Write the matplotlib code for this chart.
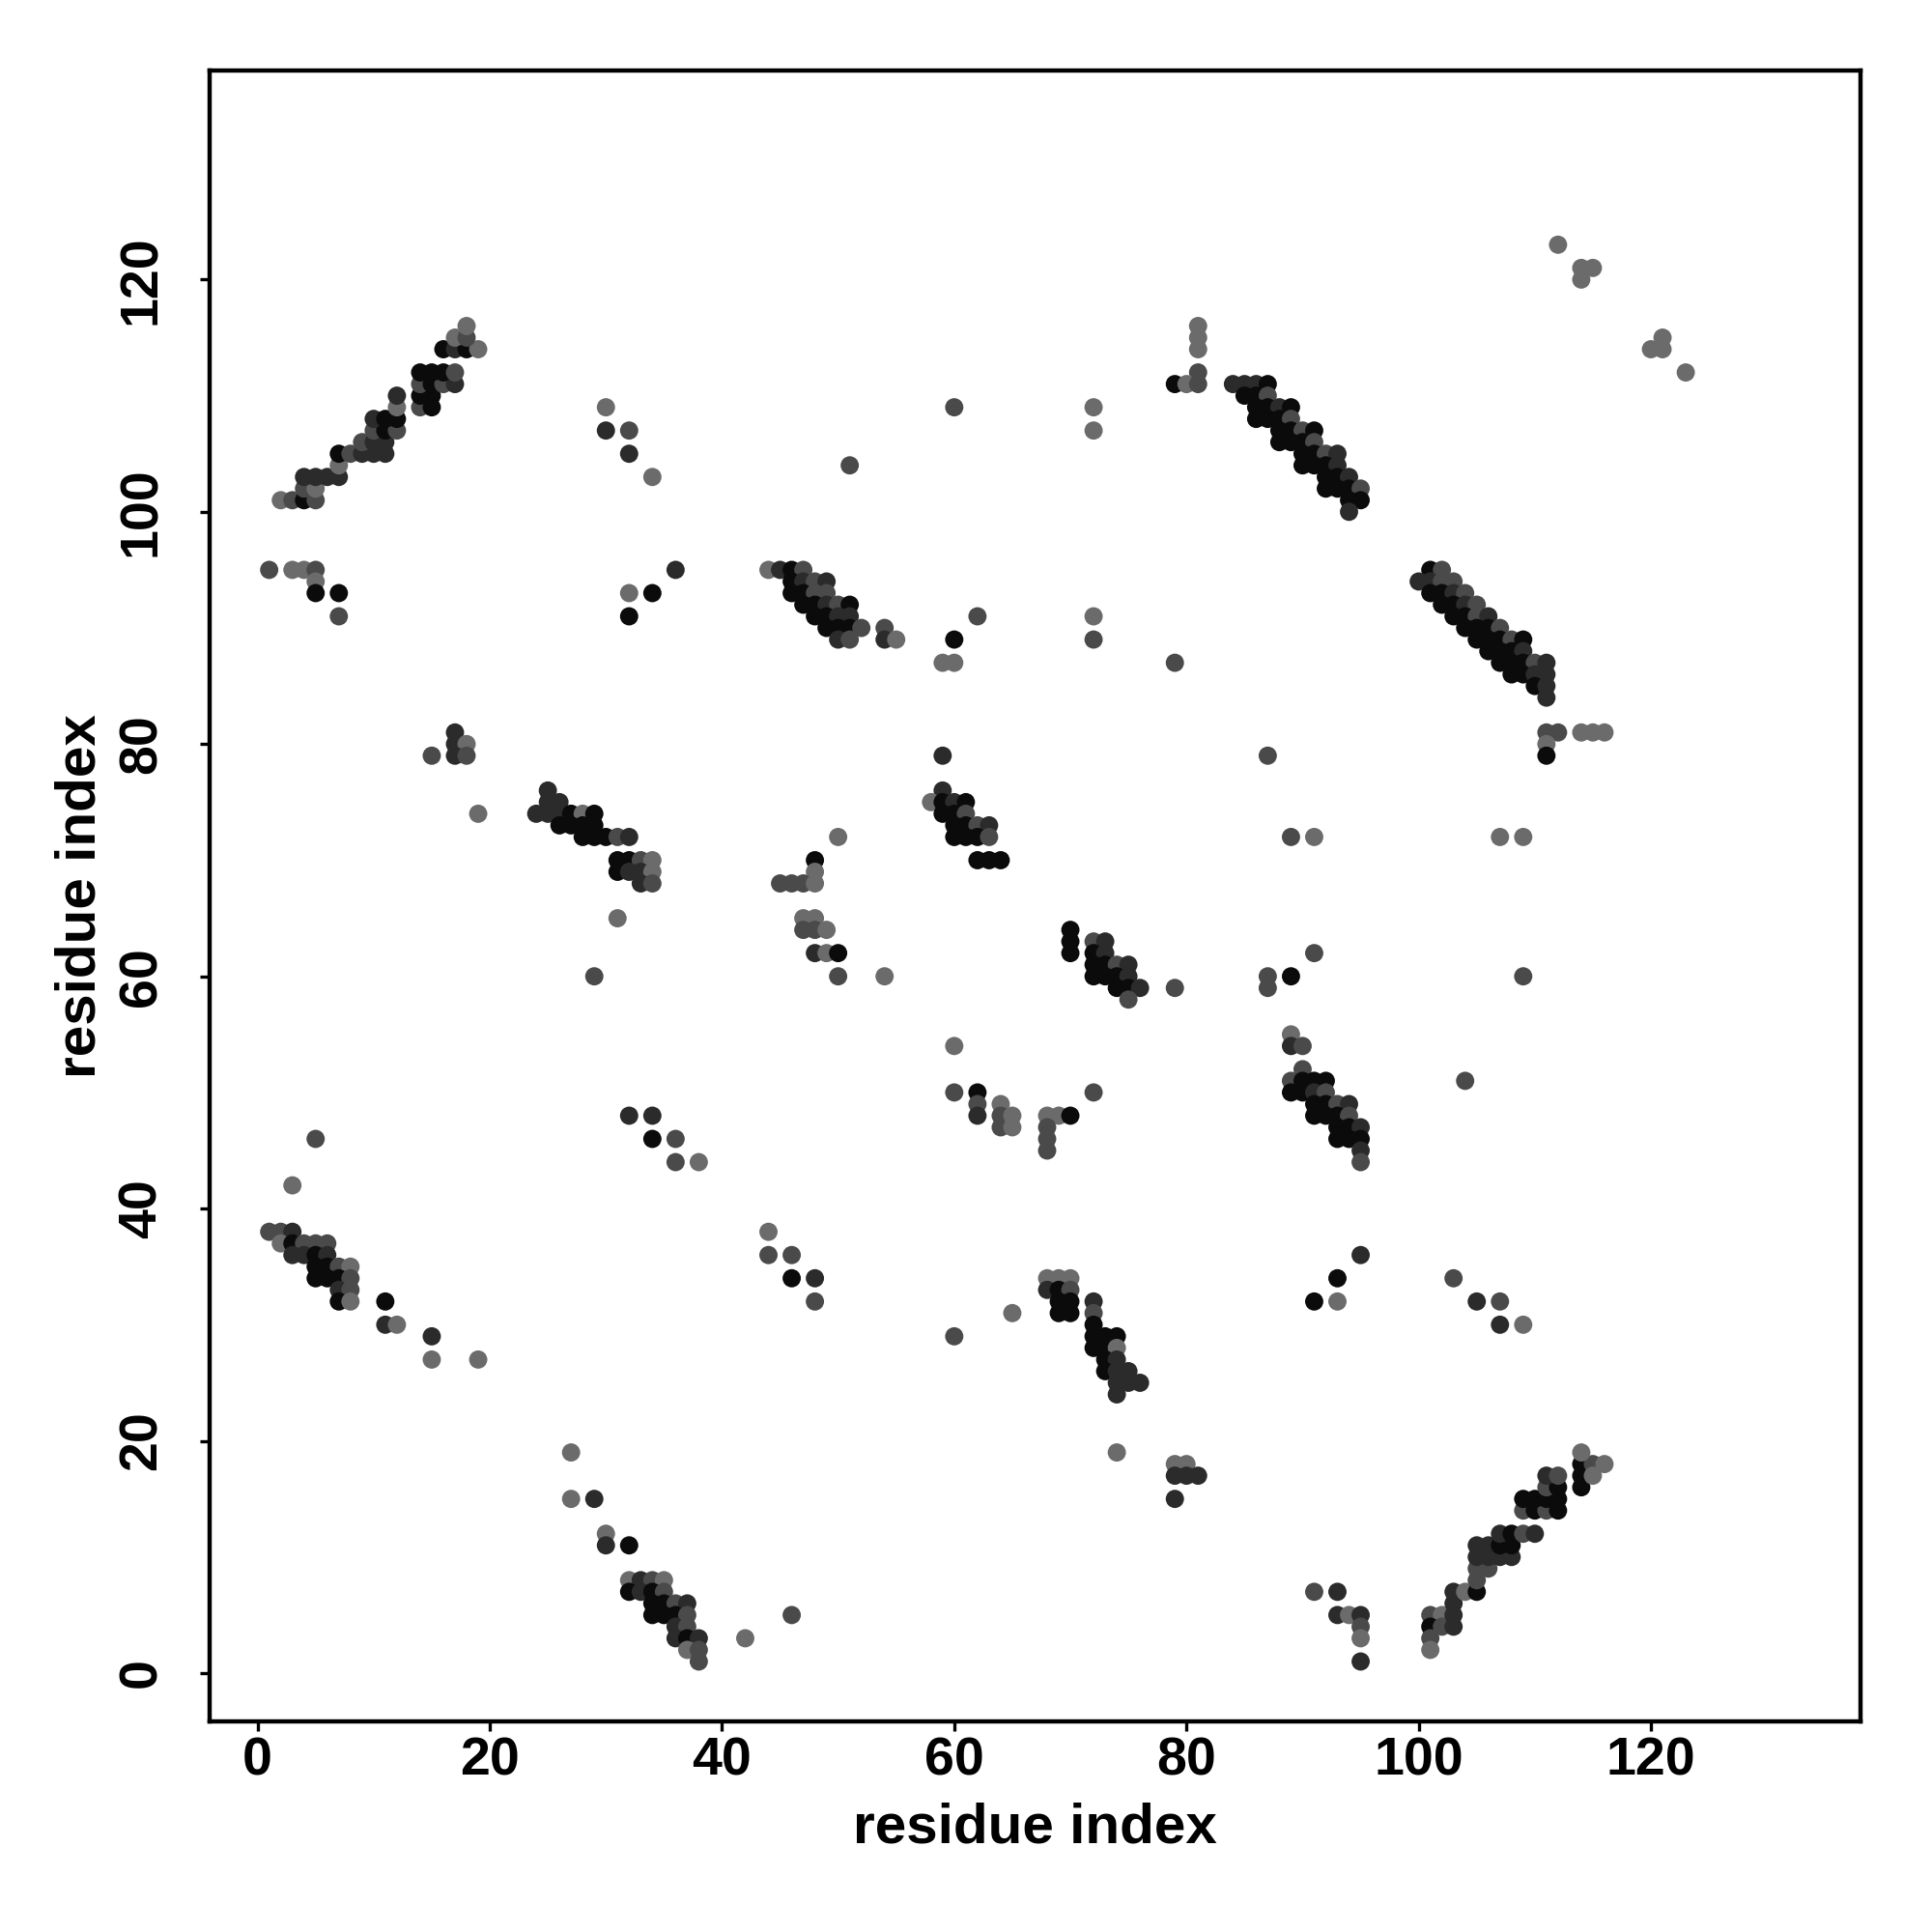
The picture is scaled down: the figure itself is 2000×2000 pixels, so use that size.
import matplotlib
matplotlib.use("Agg")
import matplotlib.pyplot as plt

plt.rcParams['font.family'] = ['Liberation Sans', 'DejaVu Sans']
plt.rcParams['font.weight'] = 'bold'

# gray level per confidence class: k=black, d=dark, m=mid, l=light
shades = {'k': '#0b0b0b', 'd': '#2b2b2b', 'm': '#4a4a4a', 'l': '#6b6b6b'}

# (residue i, residue j, class), grouped by region
top_left_band = [
    (2,101,'l'),(3,101,'m'),(4,101,'k'),(5,101,'m'),(4,102,'m'),(5,102,'l'),
    (4,103,'d'),(5,103,'d'),(6,103,'d'),(7,103,'d'),(7,104,'l'),
    (7,105,'k'),(8,105,'m'),(9,105,'d'),(10,105,'d'),(11,105,'d'),
    (9,106,'m'),(10,106,'d'),(11,106,'d'),(10,107,'m'),(11,107,'k'),(12,107,'m'),
    (10,108,'d'),(11,108,'k'),(12,108,'k'),(12,109,'l'),(14,109,'m'),(15,109,'k'),
    (12,110,'d'),(14,110,'k'),(15,110,'k'),(14,111,'m'),(15,111,'k'),(16,111,'m'),(17,111,'d'),
    (14,112,'k'),(15,112,'k'),(16,112,'k'),(17,112,'m'),
    (16,114,'k'),(17,114,'d'),(18,114,'k'),(19,114,'l'),(17,115,'l'),(18,115,'m'),(18,116,'l'),
    (1,95,'m'),(3,95,'l'),(4,95,'l'),(5,95,'m'),(5,94,'l'),(5,93,'k'),(7,93,'k'),(7,91,'m'),
]

top_scatter = [
    (30,109,'l'),(30,107,'d'),(32,107,'m'),(32,105,'d'),(34,103,'l'),(32,93,'l'),(32,91,'k'),
    (34,93,'k'),(36,95,'d'),(51,104,'m'),(60,109,'m'),(62,91,'m'),(60,89,'k'),(59,87,'l'),
    (60,87,'l'),(72,109,'l'),(72,107,'l'),(72,91,'l'),(72,89,'m'),(79,87,'m'),
]

mid_top_band = [
    (44,95,'l'),(45,95,'d'),(46,95,'k'),(47,95,'m'),
    (46,94,'k'),(47,94,'d'),(48,94,'m'),(49,94,'d'),
    (46,93,'k'),(47,93,'k'),(48,93,'m'),(49,93,'m'),
    (47,92,'k'),(48,92,'k'),(49,92,'d'),(50,92,'m'),(51,92,'k'),
    (48,91,'k'),(49,91,'k'),(50,91,'d'),(51,91,'d'),
    (49,90,'k'),(50,90,'k'),(51,90,'k'),(52,90,'m'),(54,90,'m'),
    (50,89,'d'),(51,89,'m'),(54,89,'d'),(55,89,'l'),
]

top_right_band = [
    (81,116,'l'),(81,115,'l'),(81,114,'l'),(81,112,'m'),(79,111,'k'),(80,111,'l'),(81,111,'m'),
    (84,111,'d'),(85,111,'d'),(86,111,'d'),(87,111,'k'),
    (85,110,'k'),(86,110,'k'),(87,110,'m'),
    (86,109,'k'),(87,109,'k'),(88,109,'d'),(89,109,'k'),
    (86,108,'k'),(87,108,'k'),(88,108,'k'),(89,108,'m'),
    (88,107,'k'),(89,107,'k'),(90,107,'m'),(91,107,'k'),
    (88,106,'k'),(89,106,'k'),(90,106,'k'),(91,106,'m'),
    (90,105,'k'),(91,105,'k'),(92,105,'m'),(93,105,'d'),
    (90,104,'k'),(91,104,'k'),(92,104,'k'),(93,104,'d'),
    (92,103,'k'),(93,103,'k'),(94,103,'d'),
    (92,102,'k'),(93,102,'k'),(94,102,'k'),(95,102,'m'),
    (94,101,'k'),(95,101,'k'),(94,100,'d'),
]

corner = [
    (112,123,'l'),(114,121,'l'),(115,121,'l'),(114,120,'l'),
    (120,114,'l'),(121,115,'l'),(121,114,'l'),(123,112,'l'),
]

right_band = [
    (101,95,'k'),(102,95,'m'),
    (100,94,'d'),(101,94,'d'),(102,94,'m'),(103,94,'m'),
    (101,93,'k'),(102,93,'k'),(103,93,'d'),(104,93,'m'),
    (102,92,'k'),(103,92,'k'),(104,92,'d'),(105,92,'m'),
    (103,91,'k'),(104,91,'k'),(105,91,'m'),(106,91,'d'),
    (104,90,'k'),(105,90,'k'),(106,90,'k'),(107,90,'m'),
    (105,89,'k'),(106,89,'k'),(107,89,'k'),(108,89,'m'),(109,89,'k'),
    (106,88,'k'),(107,88,'k'),(108,88,'k'),(109,88,'d'),
    (107,87,'k'),(108,87,'k'),(109,87,'k'),(110,87,'m'),(111,87,'d'),
    (108,86,'k'),(109,86,'k'),(110,86,'d'),(111,86,'d'),
    (110,85,'k'),(111,85,'d'),(111,84,'d'),
    (111,81,'m'),(112,81,'m'),(114,81,'l'),(115,81,'l'),(116,81,'l'),(111,80,'l'),(111,79,'k'),
]

middle = [
    (17,81,'d'),(17,80,'d'),(18,80,'l'),(15,79,'m'),(17,79,'d'),(18,79,'m'),(19,74,'l'),
    (25,76,'d'),(25,75,'d'),(26,75,'d'),(24,74,'d'),(25,74,'d'),(26,74,'d'),(27,74,'k'),
    (28,74,'l'),(29,74,'k'),(26,73,'k'),(27,73,'k'),(28,73,'k'),(29,73,'k'),
    (28,72,'k'),(29,72,'k'),(30,72,'k'),(31,72,'m'),(32,72,'d'),
    (31,70,'k'),(32,70,'k'),(33,70,'m'),(34,70,'l'),
    (31,69,'k'),(32,69,'d'),(33,69,'d'),(34,69,'l'),(33,68,'d'),(34,68,'m'),
    (31,65,'l'),(29,60,'m'),
    (50,72,'l'),(48,70,'k'),(48,69,'l'),(45,68,'m'),(46,68,'m'),(47,68,'m'),(48,68,'l'),
    (47,65,'l'),(48,65,'l'),(47,64,'m'),(48,64,'m'),(49,64,'l'),
    (48,62,'d'),(49,62,'l'),(50,62,'k'),(50,60,'m'),(54,60,'l'),
    (59,79,'d'),(59,76,'d'),(58,75,'l'),(59,75,'k'),(60,75,'d'),(61,75,'k'),
    (59,74,'k'),(60,74,'k'),(61,74,'m'),(60,73,'k'),(61,73,'k'),(62,73,'m'),(63,73,'d'),
    (60,72,'k'),(61,72,'k'),(62,72,'k'),(63,72,'m'),(62,70,'k'),(63,70,'k'),(64,70,'k'),
    (70,64,'k'),(70,63,'k'),(70,62,'k'),(72,63,'m'),(73,63,'d'),(72,62,'k'),(73,62,'d'),
    (72,61,'k'),(73,61,'k'),(74,61,'m'),(75,61,'d'),(72,60,'k'),(73,60,'k'),(74,60,'k'),
    (75,60,'d'),(74,59,'k'),(75,59,'k'),(76,59,'d'),(75,58,'m'),
    (87,79,'m'),(89,72,'m'),(91,72,'l'),(107,72,'l'),(109,72,'l'),(79,59,'m'),(87,60,'m'),
    (87,59,'m'),(89,60,'k'),(91,62,'m'),(109,60,'m'),(104,51,'m'),
]

lower_middle = [
    (89,55,'l'),(89,54,'d'),(90,54,'m'),(90,52,'m'),(89,51,'m'),(90,51,'k'),(91,51,'k'),(92,51,'k'),
    (89,50,'k'),(90,50,'k'),(91,50,'d'),(92,50,'m'),
    (91,49,'k'),(92,49,'k'),(93,49,'m'),(94,49,'d'),
    (91,48,'k'),(92,48,'k'),(93,48,'k'),(94,48,'m'),
    (93,47,'k'),(94,47,'k'),(95,47,'d'),(93,46,'k'),(94,46,'k'),(95,46,'k'),
    (95,45,'d'),(95,44,'m'),
    (60,54,'l'),(60,50,'m'),(62,50,'k'),(62,49,'m'),(62,48,'d'),(64,49,'l'),(64,48,'m'),
    (64,47,'m'),(65,48,'l'),(65,47,'l'),(68,48,'l'),(69,48,'l'),(70,48,'k'),(68,47,'m'),
    (68,46,'m'),(68,45,'m'),(72,50,'m'),
    (32,48,'d'),(34,48,'d'),(34,46,'k'),(36,46,'m'),(36,44,'m'),(38,44,'l'),
    (44,38,'l'),(44,36,'m'),(46,36,'m'),(46,34,'k'),(48,34,'d'),(48,32,'m'),
]

lower_left_band = [
    (5,46,'m'),(3,42,'l'),
    (1,38,'m'),(2,38,'m'),(3,38,'d'),
    (2,37,'l'),(3,37,'k'),(4,37,'m'),(5,37,'m'),(6,37,'m'),
    (3,36,'d'),(4,36,'d'),(5,36,'k'),(6,36,'d'),
    (5,35,'k'),(6,35,'k'),(7,35,'m'),(8,35,'l'),
    (5,34,'k'),(6,34,'k'),(7,34,'k'),(8,34,'m'),
    (7,33,'d'),(8,33,'m'),(7,32,'k'),(8,32,'l'),
    (11,32,'k'),(11,30,'d'),(12,30,'l'),(15,29,'d'),(15,27,'l'),(19,27,'l'),
]

bottom_band = [
    (27,19,'l'),(27,15,'l'),(29,15,'d'),(30,12,'l'),(30,11,'d'),(32,11,'k'),
    (32,8,'l'),(33,8,'d'),(34,8,'m'),(35,8,'l'),
    (32,7,'k'),(33,7,'d'),(34,7,'k'),(35,7,'m'),
    (34,6,'k'),(35,6,'k'),(36,6,'m'),(37,6,'d'),
    (34,5,'k'),(35,5,'k'),(36,5,'k'),(37,5,'m'),
    (36,4,'d'),(37,4,'m'),(36,3,'d'),(37,3,'k'),(38,3,'d'),
    (37,2,'l'),(38,2,'m'),(38,1,'m'),(42,3,'l'),(46,5,'m'),
    (60,29,'m'),(65,31,'l'),
    (68,34,'l'),(69,34,'l'),(70,34,'l'),(68,33,'d'),(69,33,'k'),(70,33,'m'),
    (69,32,'k'),(70,32,'k'),(69,31,'k'),(70,31,'k'),
    (72,32,'d'),(72,31,'m'),(72,30,'k'),(72,29,'k'),(73,29,'k'),(74,29,'k'),
    (72,28,'k'),(73,28,'k'),(74,28,'l'),(73,27,'k'),(74,27,'d'),
    (73,26,'k'),(74,26,'d'),(75,26,'d'),(74,25,'d'),(75,25,'d'),(76,25,'d'),(74,24,'d'),
    (74,19,'l'),(79,18,'l'),(80,18,'l'),(79,17,'d'),(80,17,'d'),(81,17,'d'),(79,15,'d'),
]

bottom_right = [
    (95,36,'d'),(93,34,'k'),(91,32,'k'),(93,32,'l'),(103,34,'m'),(105,32,'d'),(107,32,'m'),
    (107,30,'d'),(109,30,'l'),
    (91,7,'m'),(93,7,'d'),(93,5,'d'),(94,5,'l'),(95,5,'d'),(95,4,'m'),(95,3,'l'),(95,1,'d'),
    (101,5,'m'),(102,5,'l'),(101,4,'k'),(102,4,'m'),(103,4,'d'),(101,3,'m'),(101,2,'l'),
    (103,7,'d'),(103,6,'d'),(103,5,'d'),(104,7,'l'),(105,7,'k'),
    (105,8,'m'),(105,9,'m'),(106,9,'m'),(105,10,'d'),(106,10,'d'),(107,10,'d'),(108,10,'d'),
    (105,11,'d'),(106,11,'d'),(107,11,'k'),(108,11,'k'),
    (107,12,'d'),(108,12,'k'),(109,12,'m'),(110,12,'d'),
    (109,14,'m'),(110,14,'k'),(111,14,'m'),(112,14,'k'),
    (109,15,'k'),(110,15,'k'),(111,15,'k'),(112,15,'k'),
    (111,16,'m'),(112,16,'k'),(111,17,'d'),(112,17,'m'),
    (114,16,'k'),(114,17,'k'),(114,18,'k'),(115,18,'m'),(116,18,'l'),(115,17,'l'),(114,19,'l'),
]

contacts = (top_left_band + top_scatter + mid_top_band + top_right_band + corner
            + right_band + middle + lower_middle + lower_left_band + bottom_band + bottom_right)

xs = [c[0] for c in contacts]
ys = [c[1] for c in contacts]
cols = [shades[c[2]] for c in contacts]

fig = plt.figure(figsize=(20, 20), dpi=100)
ax = fig.add_axes([0.1085, 0.109, 0.8545, 0.8545])

ax.scatter(xs, ys, s=185, c=cols, linewidths=0)

ax.set_xlim(-4.13, 138.05)
ax.set_ylim(-4.16, 138.0)
ax.set_xticks([0, 20, 40, 60, 80, 100, 120])
ax.set_yticks([0, 20, 40, 60, 80, 100, 120])

for sp in ax.spines.values():
    sp.set_linewidth(3.2)

ax.tick_params(direction='out', length=7.5, width=2.4, labelsize=40)
ax.tick_params(axis='x', pad=4)
ax.tick_params(axis='y', pad=24)
for lab in ax.get_yticklabels():
    lab.set_rotation(90)
    lab.set_va('center')

ax.set_xlabel('residue index', fontsize=42, fontweight='bold', va='center')
ax.xaxis.set_label_coords(0.5, -0.0644)
ax.set_ylabel('residue index', fontsize=42, fontweight='bold', va='center')
ax.yaxis.set_label_coords(-0.0784, 0.5)

fig.savefig('out.png', dpi=100, facecolor='white')
